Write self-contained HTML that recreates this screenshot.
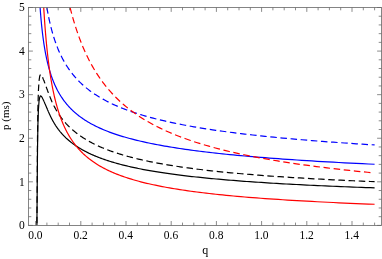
<!DOCTYPE html>
<html><head><meta charset="utf-8"><title>plot</title>
<style>
html,body{margin:0;padding:0;background:#fff;}
body{width:382px;height:259px;position:relative;overflow:hidden;font-family:"Liberation Serif",serif;color:#000;}
.xl,.yl,.xt,.yt{position:absolute;font-size:11.5px;line-height:11.5px;white-space:nowrap;}
.lab{position:absolute;left:0;top:0;width:382px;height:259px;will-change:transform;}
.xl,.xt{width:40px;text-align:center;}
.yl{text-align:right;}
.yt{font-size:11px;line-height:11px;}
.xt{font-size:12px;line-height:12px;}
.yt{transform-origin:0 0;transform:rotate(-90deg);}
</style></head><body>
<svg width="382" height="259" viewBox="0 0 382 259" style="position:absolute;left:0;top:0"><defs><clipPath id="c"><rect x="28.5" y="7.5" width="353.0" height="217.9"/></clipPath></defs><g clip-path="url(#c)" fill="none" stroke-linejoin="round"><path d="M36.90,225.50L37.20,190.00L37.50,150.00L37.90,125.00L38.40,110.00L39.00,101.50L39.70,97.40L40.30,96.10L40.80,95.90L41.40,96.40L42.30,97.77L42.39,97.94L42.48,98.12L42.57,98.31L42.66,98.50L42.75,98.69L42.85,98.89L42.94,99.09L43.04,99.29L43.14,99.50L43.24,99.71L43.34,99.93L43.44,100.15L43.55,100.38L43.65,100.61L43.76,100.84L43.87,101.08L43.97,101.33L44.09,101.58L44.20,101.83L44.31,102.09L44.43,102.35L44.54,102.62L44.66,102.89L44.78,103.17L44.90,103.45L45.02,103.74L45.15,104.03L45.28,104.33L45.40,104.63L45.53,104.94L45.66,105.25L45.80,105.57L45.93,105.89L46.07,106.22L46.21,106.55L46.35,106.88L46.49,107.22L46.63,107.56L46.78,107.91L46.93,108.26L47.07,108.61L47.23,108.97L47.38,109.34L47.54,109.70L47.69,110.07L47.85,110.44L48.02,110.82L48.18,111.20L48.35,111.58L48.51,111.97L48.68,112.35L48.86,112.74L49.03,113.13L49.21,113.53L49.39,113.92L49.57,114.32L49.76,114.72L49.94,115.12L50.13,115.53L50.32,115.93L50.52,116.34L50.72,116.74L50.92,117.15L51.12,117.56L51.32,117.97L51.53,118.38L51.74,118.79L51.95,119.20L52.17,119.61L52.39,120.02L52.61,120.43L52.84,120.84L53.06,121.25L53.29,121.66L53.53,122.07L53.76,122.48L54.00,122.89L54.25,123.30L54.49,123.70L54.74,124.11L55.00,124.52L55.25,124.92L55.51,125.33L55.78,125.73L56.04,126.14L56.31,126.54L56.59,126.94L56.86,127.34L57.14,127.74L57.43,128.14L57.72,128.54L58.01,128.94L58.30,129.34L58.60,129.73L58.91,130.13L59.22,130.52L59.53,130.91L59.84,131.31L60.17,131.70L60.49,132.09L60.82,132.47L61.15,132.86L61.49,133.25L61.83,133.64L62.18,134.02L62.53,134.41L62.88,134.79L63.24,135.17L63.61,135.55L63.98,135.93L64.35,136.31L64.73,136.69L65.12,137.07L65.51,137.45L65.90,137.83L66.30,138.20L66.71,138.58L67.12,138.95L67.54,139.32L67.96,139.69L68.39,140.07L68.82,140.44L69.26,140.81L69.70,141.17L70.15,141.54L70.61,141.91L71.07,142.28L71.54,142.64L72.02,143.01L72.50,143.37L72.99,143.73L73.48,144.09L73.98,144.45L74.49,144.82L75.00,145.17L75.52,145.53L76.05,145.89L76.58,146.25L77.12,146.60L77.67,146.96L78.23,147.31L78.79,147.66L79.36,148.02L79.94,148.37L80.53,148.72L81.12,149.07L81.72,149.41L82.33,149.76L82.95,150.11L83.57,150.45L84.21,150.80L84.85,151.14L85.50,151.48L86.16,151.82L86.83,152.16L87.50,152.50L88.19,152.84L88.88,153.17L89.59,153.51L90.30,153.84L91.02,154.18L91.75,154.51L92.50,154.84L93.25,155.17L94.01,155.50L94.78,155.83L95.56,156.15L96.35,156.48L97.16,156.80L97.97,157.13L98.79,157.45L99.63,157.77L100.47,158.09L101.33,158.41L102.20,158.72L103.08,159.04L103.97,159.35L104.87,159.67L105.79,159.98L106.72,160.29L107.66,160.60L108.61,160.91L109.57,161.22L110.55,161.52L111.54,161.83L112.54,162.13L113.56,162.43L114.59,162.73L115.63,163.03L116.69,163.33L117.76,163.63L118.85,163.92L119.95,164.22L121.06,164.51L122.19,164.80L123.33,165.09L124.49,165.38L125.67,165.67L126.86,165.95L128.06,166.24L129.28,166.52L130.52,166.81L131.77,167.09L133.04,167.37L134.33,167.64L135.64,167.92L136.96,168.20L138.30,168.47L139.65,168.74L141.03,169.02L142.42,169.29L143.83,169.56L145.26,169.82L146.71,170.09L148.18,170.35L149.66,170.62L151.17,170.88L152.70,171.14L154.24,171.40L155.81,171.66L157.40,171.91L159.01,172.17L160.64,172.42L162.29,172.68L163.96,172.93L165.66,173.18L167.38,173.43L169.12,173.67L170.88,173.92L172.67,174.16L174.48,174.41L176.31,174.65L178.17,174.89L180.06,175.13L181.96,175.37L183.90,175.60L185.86,175.84L187.84,176.07L189.85,176.30L191.89,176.54L193.96,176.77L196.05,176.99L198.17,177.22L200.31,177.45L202.49,177.67L204.69,177.89L206.93,178.12L209.19,178.34L211.49,178.55L213.81,178.77L216.16,178.99L218.55,179.20L220.96,179.42L223.41,179.63L225.89,179.84L228.41,180.05L230.95,180.26L233.54,180.47L236.15,180.67L238.80,180.88L241.48,181.08L244.20,181.28L246.96,181.48L249.75,181.68L252.58,181.88L255.45,182.08L258.35,182.27L261.29,182.47L264.27,182.66L267.30,182.85L270.36,183.04L273.46,183.23L276.60,183.42L279.78,183.61L283.01,183.79L286.28,183.98L289.59,184.16L292.94,184.34L296.34,184.52L299.79,184.70L303.28,184.88L306.81,185.06L310.40,185.23L314.03,185.41L317.70,185.58L321.43,185.75L325.21,185.92L329.03,186.09L332.91,186.26L336.83,186.43L340.81,186.60L344.85,186.76L348.93,186.92L353.07,187.09L357.26,187.25L361.51,187.41L365.82,187.57L370.18,187.72L374.60,187.88" stroke="#000000" stroke-width="1.2"/><path d="M36.90,225.50L37.20,184.14L37.50,137.53L37.90,108.41L38.40,90.93L39.00,81.03L39.70,76.25L40.30,74.74L40.80,74.50L41.40,75.09L42.30,76.68L42.39,76.88L42.48,77.10L42.57,77.31L42.66,77.53L42.75,77.75L42.85,77.98L42.94,78.22L43.04,78.45L43.14,78.70L43.24,78.95L43.34,79.20L43.44,79.46L43.55,79.72L43.65,79.99L43.76,80.26L43.87,80.54L43.97,80.83L44.09,81.12L44.20,81.41L44.31,81.71L44.43,82.02L44.54,82.33L44.66,82.65L44.78,82.97L44.90,83.30L45.02,83.64L45.15,83.98L45.28,84.33L45.40,84.68L45.53,85.04L45.66,85.40L45.80,85.77L45.93,86.14L46.07,86.52L46.21,86.91L46.35,87.30L46.49,87.69L46.63,88.09L46.78,88.49L46.93,88.90L47.07,89.32L47.23,89.73L47.38,90.16L47.54,90.58L47.69,91.01L47.85,91.45L48.02,91.89L48.18,92.33L48.35,92.77L48.51,93.22L48.68,93.67L48.86,94.13L49.03,94.58L49.21,95.04L49.39,95.50L49.57,95.97L49.76,96.43L49.94,96.90L50.13,97.37L50.32,97.84L50.52,98.31L50.72,98.79L50.92,99.26L51.12,99.74L51.32,100.21L51.53,100.69L51.74,101.17L51.95,101.65L52.17,102.12L52.39,102.60L52.61,103.08L52.84,103.56L53.06,104.04L53.29,104.51L53.53,104.99L53.76,105.47L54.00,105.95L54.25,106.42L54.49,106.90L54.74,107.37L55.00,107.85L55.25,108.32L55.51,108.79L55.78,109.26L56.04,109.73L56.31,110.20L56.59,110.67L56.86,111.14L57.14,111.60L57.43,112.07L57.72,112.53L58.01,113.00L58.30,113.46L58.60,113.92L58.91,114.38L59.22,114.84L59.53,115.30L59.84,115.75L60.17,116.21L60.49,116.66L60.82,117.12L61.15,117.57L61.49,118.02L61.83,118.47L62.18,118.92L62.53,119.37L62.88,119.81L63.24,120.26L63.61,120.70L63.98,121.15L64.35,121.59L64.73,122.03L65.12,122.47L65.51,122.91L65.90,123.35L66.30,123.79L66.71,124.22L67.12,124.66L67.54,125.09L67.96,125.53L68.39,125.96L68.82,126.39L69.26,126.82L69.70,127.25L70.15,127.68L70.61,128.11L71.07,128.54L71.54,128.96L72.02,129.39L72.50,129.81L72.99,130.23L73.48,130.65L73.98,131.07L74.49,131.49L75.00,131.91L75.52,132.33L76.05,132.75L76.58,133.16L77.12,133.58L77.67,133.99L78.23,134.40L78.79,134.81L79.36,135.22L79.94,135.63L80.53,136.04L81.12,136.45L81.72,136.85L82.33,137.26L82.95,137.66L83.57,138.06L84.21,138.46L84.85,138.86L85.50,139.26L86.16,139.66L86.83,140.05L87.50,140.45L88.19,140.84L88.88,141.23L89.59,141.62L90.30,142.01L91.02,142.40L91.75,142.79L92.50,143.18L93.25,143.56L94.01,143.94L94.78,144.33L95.56,144.71L96.35,145.08L97.16,145.46L97.97,145.84L98.79,146.21L99.63,146.59L100.47,146.96L101.33,147.33L102.20,147.70L103.08,148.07L103.97,148.43L104.87,148.80L105.79,149.16L106.72,149.53L107.66,149.89L108.61,150.25L109.57,150.60L110.55,150.96L111.54,151.31L112.54,151.67L113.56,152.02L114.59,152.37L115.63,152.72L116.69,153.07L117.76,153.41L118.85,153.76L119.95,154.10L121.06,154.44L122.19,154.78L123.33,155.12L124.49,155.45L125.67,155.79L126.86,156.12L128.06,156.46L129.28,156.79L130.52,157.12L131.77,157.44L133.04,157.77L134.33,158.09L135.64,158.42L136.96,158.74L138.30,159.06L139.65,159.37L141.03,159.69L142.42,160.01L143.83,160.32L145.26,160.63L146.71,160.94L148.18,161.25L149.66,161.56L151.17,161.86L152.70,162.17L154.24,162.47L155.81,162.77L157.40,163.07L159.01,163.37L160.64,163.66L162.29,163.96L163.96,164.25L165.66,164.54L167.38,164.83L169.12,165.12L170.88,165.40L172.67,165.69L174.48,165.97L176.31,166.25L178.17,166.53L180.06,166.81L181.96,167.09L183.90,167.37L185.86,167.64L187.84,167.91L189.85,168.18L191.89,168.45L193.96,168.72L196.05,168.99L198.17,169.25L200.31,169.51L202.49,169.77L204.69,170.03L206.93,170.29L209.19,170.55L211.49,170.80L213.81,171.06L216.16,171.31L218.55,171.56L220.96,171.81L223.41,172.06L225.89,172.30L228.41,172.55L230.95,172.79L233.54,173.03L236.15,173.27L238.80,173.51L241.48,173.75L244.20,173.98L246.96,174.22L249.75,174.45L252.58,174.68L255.45,174.91L258.35,175.14L261.29,175.36L264.27,175.59L267.30,175.81L270.36,176.03L273.46,176.26L276.60,176.47L279.78,176.69L283.01,176.91L286.28,177.12L289.59,177.34L292.94,177.55L296.34,177.76L299.79,177.97L303.28,178.18L306.81,178.38L310.40,178.59L314.03,178.79L317.70,178.99L321.43,179.19L325.21,179.39L329.03,179.59L332.91,179.78L336.83,179.98L340.81,180.17L344.85,180.36L348.93,180.55L353.07,180.74L357.26,180.93L361.51,181.12L365.82,181.30L370.18,181.49L374.60,181.67" stroke="#000000" stroke-width="1.2" stroke-dasharray="6.55,3.615" stroke-dashoffset="7.846"/><path d="M37.40,-56.67L37.43,-55.27L37.47,-53.88L37.50,-52.49L37.54,-51.10L37.57,-49.72L37.61,-48.34L37.65,-46.97L37.69,-45.60L37.72,-44.23L37.76,-42.87L37.81,-41.51L37.85,-40.15L37.89,-38.80L37.93,-37.46L37.98,-36.11L38.02,-34.78L38.07,-33.44L38.11,-32.11L38.16,-30.79L38.21,-29.46L38.26,-28.15L38.31,-26.84L38.36,-25.53L38.41,-24.22L38.46,-22.92L38.51,-21.63L38.57,-20.34L38.62,-19.05L38.68,-17.77L38.74,-16.49L38.80,-15.22L38.86,-13.95L38.92,-12.69L38.98,-11.43L39.04,-10.18L39.11,-8.93L39.18,-7.68L39.24,-6.44L39.31,-5.21L39.38,-3.98L39.45,-2.75L39.52,-1.53L39.60,-0.32L39.67,0.90L39.75,2.10L39.83,3.30L39.90,4.50L39.99,5.69L40.07,6.88L40.15,8.06L40.24,9.24L40.32,10.41L40.41,11.58L40.50,12.74L40.59,13.90L40.69,15.06L40.78,16.21L40.88,17.35L40.98,18.49L41.08,19.62L41.18,20.75L41.29,21.87L41.40,22.99L41.50,24.11L41.61,25.22L41.73,26.32L41.84,27.42L41.96,28.51L42.08,29.60L42.20,30.69L42.32,31.77L42.45,32.84L42.58,33.91L42.71,34.97L42.84,36.03L42.98,37.09L43.12,38.14L43.26,39.18L43.40,40.22L43.55,41.26L43.70,42.29L43.85,43.31L44.00,44.33L44.16,45.34L44.32,46.35L44.49,47.36L44.65,48.36L44.82,49.35L44.99,50.34L45.17,51.33L45.35,52.31L45.53,53.29L45.72,54.26L45.91,55.22L46.10,56.18L46.30,57.14L46.50,58.09L46.70,59.03L46.91,59.98L47.12,60.91L47.34,61.84L47.56,62.77L47.79,63.69L48.01,64.61L48.25,65.52L48.48,66.43L48.73,67.33L48.97,68.23L49.22,69.12L49.48,70.01L49.74,70.89L50.00,71.77L50.27,72.65L50.55,73.52L50.83,74.38L51.11,75.24L51.41,76.09L51.70,76.95L52.00,77.79L52.31,78.63L52.62,79.47L52.94,80.30L53.27,81.13L53.60,81.95L53.94,82.77L54.28,83.58L54.63,84.39L54.99,85.19L55.35,85.99L55.72,86.79L56.10,87.58L56.49,88.37L56.88,89.15L57.28,89.92L57.68,90.70L58.10,91.46L58.52,92.23L58.95,92.99L59.39,93.74L59.83,94.49L60.29,95.24L60.75,95.98L61.22,96.72L61.70,97.45L62.19,98.18L62.69,98.90L63.20,99.62L63.72,100.34L64.24,101.05L64.78,101.76L65.33,102.46L65.88,103.16L66.45,103.86L67.03,104.55L67.62,105.23L68.22,105.92L68.83,106.59L69.46,107.27L70.09,107.94L70.74,108.60L71.40,109.26L72.07,109.92L72.75,110.58L73.45,111.23L74.16,111.87L74.88,112.51L75.62,113.15L76.37,113.78L77.13,114.41L77.91,115.04L78.71,115.66L79.51,116.28L80.34,116.89L81.18,117.50L82.03,118.11L82.90,118.71L83.79,119.31L84.69,119.91L85.61,120.50L86.55,121.08L87.51,121.67L88.48,122.25L89.47,122.82L90.48,123.40L91.51,123.97L92.56,124.53L93.63,125.09L94.72,125.65L95.82,126.21L96.95,126.76L98.11,127.30L99.28,127.85L100.47,128.39L101.69,128.92L102.93,129.46L104.19,129.99L105.48,130.51L106.79,131.04L108.12,131.56L109.48,132.07L110.87,132.58L112.28,133.09L113.72,133.60L115.18,134.10L116.67,134.60L118.19,135.10L119.74,135.59L121.32,136.08L122.93,136.56L124.57,137.05L126.24,137.52L127.93,138.00L129.67,138.47L131.43,138.94L133.23,139.41L135.06,139.87L136.92,140.33L138.82,140.79L140.76,141.24L142.73,141.70L144.74,142.14L146.79,142.59L148.87,143.03L151.00,143.47L153.16,143.90L155.37,144.34L157.61,144.77L159.90,145.19L162.23,145.62L164.61,146.04L167.02,146.46L169.49,146.87L172.00,147.28L174.56,147.69L177.16,148.10L179.82,148.50L182.52,148.91L185.28,149.30L188.09,149.70L190.95,150.09L193.86,150.48L196.83,150.87L199.85,151.25L202.93,151.63L206.07,152.01L209.27,152.39L212.52,152.76L215.84,153.13L219.22,153.50L222.66,153.87L226.17,154.23L229.75,154.59L233.39,154.95L237.10,155.30L240.87,155.66L244.72,156.01L248.65,156.35L252.64,156.70L256.71,157.04L260.86,157.38L265.08,157.72L269.39,158.06L273.77,158.39L278.24,158.72L282.79,159.05L287.42,159.37L292.15,159.70L296.96,160.02L301.86,160.33L306.85,160.65L311.94,160.96L317.12,161.28L322.40,161.59L327.78,161.89L333.26,162.20L338.84,162.50L344.53,162.80L350.32,163.10L356.22,163.39L362.23,163.69L368.36,163.98L374.60,164.27" stroke="#0000ff" stroke-width="1.2"/><path d="M40.32,-57.49L40.41,-55.95L40.50,-54.42L40.59,-52.90L40.69,-51.38L40.78,-49.87L40.88,-48.36L40.98,-46.87L41.08,-45.38L41.18,-43.89L41.29,-42.41L41.40,-40.94L41.50,-39.47L41.61,-38.01L41.73,-36.56L41.84,-35.12L41.96,-33.68L42.08,-32.24L42.20,-30.82L42.32,-29.40L42.45,-27.98L42.58,-26.58L42.71,-25.18L42.84,-23.78L42.98,-22.39L43.12,-21.01L43.26,-19.64L43.40,-18.27L43.55,-16.91L43.70,-15.56L43.85,-14.21L44.00,-12.87L44.16,-11.53L44.32,-10.20L44.49,-8.88L44.65,-7.56L44.82,-6.25L44.99,-4.95L45.17,-3.66L45.35,-2.37L45.53,-1.08L45.72,0.19L45.91,1.46L46.10,2.73L46.30,3.99L46.50,5.24L46.70,6.48L46.91,7.72L47.12,8.95L47.34,10.18L47.56,11.40L47.79,12.61L48.01,13.82L48.25,15.02L48.48,16.21L48.73,17.40L48.97,18.58L49.22,19.75L49.48,20.92L49.74,22.08L50.00,23.24L50.27,24.39L50.55,25.53L50.83,26.67L51.11,27.80L51.41,28.93L51.70,30.05L52.00,31.16L52.31,32.27L52.62,33.37L52.94,34.46L53.27,35.55L53.60,36.63L53.94,37.71L54.28,38.78L54.63,39.84L54.99,40.90L55.35,41.95L55.72,43.00L56.10,44.04L56.49,45.07L56.88,46.10L57.28,47.12L57.68,48.14L58.10,49.15L58.52,50.15L58.95,51.15L59.39,52.15L59.83,53.13L60.29,54.12L60.75,55.09L61.22,56.06L61.70,57.03L62.19,57.99L62.69,58.94L63.20,59.89L63.72,60.83L64.24,61.76L64.78,62.69L65.33,63.62L65.88,64.54L66.45,65.45L67.03,66.36L67.62,67.26L68.22,68.16L68.83,69.05L69.46,69.94L70.09,70.82L70.74,71.70L71.40,72.57L72.07,73.43L72.75,74.29L73.45,75.15L74.16,76.00L74.88,76.84L75.62,77.68L76.37,78.52L77.13,79.34L77.91,80.17L78.71,80.99L79.51,81.80L80.34,82.61L81.18,83.41L82.03,84.21L82.90,85.00L83.79,85.79L84.69,86.57L85.61,87.35L86.55,88.12L87.51,88.89L88.48,89.65L89.47,90.41L90.48,91.16L91.51,91.91L92.56,92.66L93.63,93.39L94.72,94.13L95.82,94.86L96.95,95.58L98.11,96.30L99.28,97.02L100.47,97.73L101.69,98.44L102.93,99.14L104.19,99.83L105.48,100.53L106.79,101.21L108.12,101.90L109.48,102.58L110.87,103.25L112.28,103.92L113.72,104.58L115.18,105.25L116.67,105.90L118.19,106.55L119.74,107.20L121.32,107.85L122.93,108.49L124.57,109.12L126.24,109.75L127.93,110.38L129.67,111.00L131.43,111.62L133.23,112.23L135.06,112.84L136.92,113.45L138.82,114.05L140.76,114.65L142.73,115.24L144.74,115.83L146.79,116.41L148.87,116.99L151.00,117.57L153.16,118.15L155.37,118.71L157.61,119.28L159.90,119.84L162.23,120.40L164.61,120.95L167.02,121.50L169.49,122.05L172.00,122.59L174.56,123.13L177.16,123.67L179.82,124.20L182.52,124.72L185.28,125.25L188.09,125.77L190.95,126.28L193.86,126.80L196.83,127.31L199.85,127.81L202.93,128.31L206.07,128.81L209.27,129.31L212.52,129.80L215.84,130.29L219.22,130.77L222.66,131.25L226.17,131.73L229.75,132.20L233.39,132.68L237.10,133.14L240.87,133.61L244.72,134.07L248.65,134.52L252.64,134.98L256.71,135.43L260.86,135.88L265.08,136.32L269.39,136.76L273.77,137.20L278.24,137.64L282.79,138.07L287.42,138.50L292.15,138.92L296.96,139.34L301.86,139.76L306.85,140.18L311.94,140.59L317.12,141.00L322.40,141.41L327.78,141.81L333.26,142.21L338.84,142.61L344.53,143.00L350.32,143.40L356.22,143.79L362.23,144.17L368.36,144.55L374.60,144.93" stroke="#0000ff" stroke-width="1.2" stroke-dasharray="6.55,3.615" stroke-dashoffset="6.074"/><path d="M40.98,-55.54L41.08,-52.35L41.18,-49.19L41.29,-46.07L41.40,-42.98L41.50,-39.93L41.61,-36.91L41.73,-33.92L41.84,-30.97L41.96,-28.04L42.08,-25.15L42.20,-22.29L42.32,-19.47L42.45,-16.67L42.58,-13.90L42.71,-11.17L42.84,-8.46L42.98,-5.79L43.12,-3.14L43.26,-0.52L43.40,2.06L43.55,4.62L43.70,7.15L43.85,9.66L44.00,12.13L44.16,14.58L44.32,17.00L44.49,19.39L44.65,21.76L44.82,24.10L44.99,26.42L45.17,28.71L45.35,30.97L45.53,33.21L45.72,35.42L45.91,37.61L46.10,39.77L46.30,41.91L46.50,44.03L46.70,46.12L46.91,48.19L47.12,50.24L47.34,52.26L47.56,54.26L47.79,56.23L48.01,58.19L48.25,60.12L48.48,62.03L48.73,63.92L48.97,65.79L49.22,67.64L49.48,69.46L49.74,71.27L50.00,73.05L50.27,74.82L50.55,76.56L50.83,78.29L51.11,79.99L51.41,81.68L51.70,83.34L52.00,84.99L52.31,86.62L52.62,88.23L52.94,89.82L53.27,91.40L53.60,92.95L53.94,94.49L54.28,96.01L54.63,97.51L54.99,99.00L55.35,100.47L55.72,101.92L56.10,103.35L56.49,104.77L56.88,106.18L57.28,107.56L57.68,108.93L58.10,110.29L58.52,111.63L58.95,112.95L59.39,114.26L59.83,115.55L60.29,116.83L60.75,118.09L61.22,119.34L61.70,120.58L62.19,121.80L62.69,123.01L63.20,124.20L63.72,125.38L64.24,126.54L64.78,127.69L65.33,128.83L65.88,129.96L66.45,131.07L67.03,132.17L67.62,133.25L68.22,134.33L68.83,135.39L69.46,136.44L70.09,137.47L70.74,138.50L71.40,139.51L72.07,140.51L72.75,141.50L73.45,142.48L74.16,143.44L74.88,144.40L75.62,145.34L76.37,146.27L77.13,147.20L77.91,148.11L78.71,149.01L79.51,149.90L80.34,150.78L81.18,151.65L82.03,152.51L82.90,153.36L83.79,154.19L84.69,155.02L85.61,155.84L86.55,156.65L87.51,157.45L88.48,158.24L89.47,159.03L90.48,159.80L91.51,160.56L92.56,161.32L93.63,162.06L94.72,162.80L95.82,163.53L96.95,164.25L98.11,164.96L99.28,165.66L100.47,166.36L101.69,167.04L102.93,167.72L104.19,168.39L105.48,169.05L106.79,169.71L108.12,170.36L109.48,170.99L110.87,171.63L112.28,172.25L113.72,172.87L115.18,173.48L116.67,174.08L118.19,174.67L119.74,175.26L121.32,175.84L122.93,176.42L124.57,176.99L126.24,177.55L127.93,178.10L129.67,178.65L131.43,179.19L133.23,179.73L135.06,180.26L136.92,180.78L138.82,181.29L140.76,181.80L142.73,182.31L144.74,182.81L146.79,183.30L148.87,183.79L151.00,184.27L153.16,184.74L155.37,185.21L157.61,185.67L159.90,186.13L162.23,186.58L164.61,187.03L167.02,187.47L169.49,187.91L172.00,188.34L174.56,188.77L177.16,189.19L179.82,189.61L182.52,190.02L185.28,190.43L188.09,190.83L190.95,191.23L193.86,191.62L196.83,192.01L199.85,192.39L202.93,192.77L206.07,193.14L209.27,193.51L212.52,193.88L215.84,194.24L219.22,194.60L222.66,194.95L226.17,195.30L229.75,195.64L233.39,195.98L237.10,196.32L240.87,196.65L244.72,196.98L248.65,197.30L252.64,197.62L256.71,197.94L260.86,198.25L265.08,198.56L269.39,198.87L273.77,199.17L278.24,199.47L282.79,199.76L287.42,200.05L292.15,200.34L296.96,200.63L301.86,200.91L306.85,201.18L311.94,201.46L317.12,201.73L322.40,202.00L327.78,202.26L333.26,202.52L338.84,202.78L344.53,203.04L350.32,203.29L356.22,203.54L362.23,203.79L368.36,204.03L374.60,204.27" stroke="#ff0000" stroke-width="1.2"/><path d="M58.49,-56.70L58.91,-53.42L59.35,-50.18L59.80,-46.97L60.25,-43.81L60.71,-40.67L61.18,-37.58L61.66,-34.52L62.15,-31.50L62.65,-28.51L63.16,-25.56L63.67,-22.64L64.20,-19.75L64.73,-16.90L65.28,-14.08L65.84,-11.29L66.40,-8.54L66.98,-5.82L67.57,-3.13L68.17,-0.47L68.78,2.16L69.40,4.76L70.03,7.33L70.68,9.87L71.34,12.37L72.01,14.85L72.69,17.30L73.39,19.73L74.09,22.12L74.82,24.49L75.55,26.82L76.30,29.14L77.06,31.42L77.84,33.68L78.63,35.91L79.44,38.11L80.26,40.29L81.10,42.44L81.95,44.57L82.82,46.68L83.70,48.76L84.60,50.81L85.52,52.84L86.46,54.85L87.41,56.83L88.38,58.79L89.37,60.73L90.38,62.64L91.41,64.53L92.45,66.40L93.52,68.25L94.61,70.08L95.71,71.88L96.84,73.66L97.99,75.43L99.16,77.17L100.35,78.89L101.56,80.59L102.80,82.27L104.06,83.93L105.34,85.57L106.65,87.19L107.98,88.80L109.34,90.38L110.72,91.95L112.13,93.49L113.56,95.02L115.02,96.53L116.51,98.03L118.03,99.50L119.57,100.96L121.15,102.40L122.75,103.82L124.38,105.23L126.05,106.62L127.74,108.00L129.47,109.35L131.23,110.70L133.02,112.02L134.85,113.33L136.71,114.63L138.60,115.91L140.54,117.17L142.50,118.42L144.51,119.65L146.55,120.87L148.63,122.08L150.75,123.27L152.90,124.45L155.10,125.61L157.34,126.76L159.63,127.89L161.95,129.02L164.32,130.13L166.73,131.22L169.19,132.31L171.69,133.38L174.24,134.43L176.84,135.48L179.49,136.51L182.19,137.53L184.94,138.54L187.74,139.54L190.59,140.52L193.49,141.49L196.45,142.45L199.47,143.40L202.54,144.34L205.67,145.27L208.86,146.19L212.10,147.09L215.41,147.99L218.78,148.87L222.22,149.75L225.72,150.61L229.28,151.46L232.91,152.31L236.61,153.14L240.38,153.96L244.21,154.78L248.12,155.58L252.11,156.37L256.17,157.16L260.30,157.93L264.51,158.70L268.80,159.46L273.18,160.21L277.63,160.95L282.17,161.68L286.79,162.40L291.50,163.11L296.29,163.82L301.18,164.51L306.16,165.20L311.23,165.88L316.40,166.56L321.66,167.22L327.02,167.88L332.48,168.53L338.05,169.17L343.72,169.80L349.49,170.43L355.38,171.04L361.37,171.66L367.48,172.26L373.70,172.86" stroke="#ff0000" stroke-width="1.2" stroke-dasharray="6.55,3.615" stroke-dashoffset="6.072"/></g><g stroke="#666" stroke-width="0.8" fill="none"><rect x="28.5" y="7.5" width="353.0" height="217.9"/><path d="M35.60,225.4v-4.4M35.60,7.5v4.4M46.90,225.4v-2.8M46.90,7.5v2.8M58.20,225.4v-2.8M58.20,7.5v2.8M69.50,225.4v-2.8M69.50,7.5v2.8M80.80,225.4v-4.4M80.80,7.5v4.4M92.10,225.4v-2.8M92.10,7.5v2.8M103.40,225.4v-2.8M103.40,7.5v2.8M114.70,225.4v-2.8M114.70,7.5v2.8M126.00,225.4v-4.4M126.00,7.5v4.4M137.30,225.4v-2.8M137.30,7.5v2.8M148.60,225.4v-2.8M148.60,7.5v2.8M159.90,225.4v-2.8M159.90,7.5v2.8M171.20,225.4v-4.4M171.20,7.5v4.4M182.50,225.4v-2.8M182.50,7.5v2.8M193.80,225.4v-2.8M193.80,7.5v2.8M205.10,225.4v-2.8M205.10,7.5v2.8M216.40,225.4v-4.4M216.40,7.5v4.4M227.70,225.4v-2.8M227.70,7.5v2.8M239.00,225.4v-2.8M239.00,7.5v2.8M250.30,225.4v-2.8M250.30,7.5v2.8M261.60,225.4v-4.4M261.60,7.5v4.4M272.90,225.4v-2.8M272.90,7.5v2.8M284.20,225.4v-2.8M284.20,7.5v2.8M295.50,225.4v-2.8M295.50,7.5v2.8M306.80,225.4v-4.4M306.80,7.5v4.4M318.10,225.4v-2.8M318.10,7.5v2.8M329.40,225.4v-2.8M329.40,7.5v2.8M340.70,225.4v-2.8M340.70,7.5v2.8M352.00,225.4v-4.4M352.00,7.5v4.4M363.30,225.4v-2.8M363.30,7.5v2.8M374.60,225.4v-2.8M374.60,7.5v2.8M28.5,225.40h4.4M381.5,225.40h-4.4M28.5,216.68h2.8M381.5,216.68h-2.8M28.5,207.97h2.8M381.5,207.97h-2.8M28.5,199.25h2.8M381.5,199.25h-2.8M28.5,190.54h2.8M381.5,190.54h-2.8M28.5,181.82h4.4M381.5,181.82h-4.4M28.5,173.10h2.8M381.5,173.10h-2.8M28.5,164.39h2.8M381.5,164.39h-2.8M28.5,155.67h2.8M381.5,155.67h-2.8M28.5,146.96h2.8M381.5,146.96h-2.8M28.5,138.24h4.4M381.5,138.24h-4.4M28.5,129.52h2.8M381.5,129.52h-2.8M28.5,120.81h2.8M381.5,120.81h-2.8M28.5,112.09h2.8M381.5,112.09h-2.8M28.5,103.38h2.8M381.5,103.38h-2.8M28.5,94.66h4.4M381.5,94.66h-4.4M28.5,85.94h2.8M381.5,85.94h-2.8M28.5,77.23h2.8M381.5,77.23h-2.8M28.5,68.51h2.8M381.5,68.51h-2.8M28.5,59.80h2.8M381.5,59.80h-2.8M28.5,51.08h4.4M381.5,51.08h-4.4M28.5,42.36h2.8M381.5,42.36h-2.8M28.5,33.65h2.8M381.5,33.65h-2.8M28.5,24.93h2.8M381.5,24.93h-2.8M28.5,16.22h2.8M381.5,16.22h-2.8M28.5,7.50h4.4M381.5,7.50h-4.4" stroke-width="0.75"/></g></svg>
<div class="lab"><div class="xl" style="left:15.40px;top:229.5px">0.0</div><div class="xl" style="left:60.60px;top:229.5px">0.2</div><div class="xl" style="left:105.80px;top:229.5px">0.4</div><div class="xl" style="left:151.00px;top:229.5px">0.6</div><div class="xl" style="left:196.20px;top:229.5px">0.8</div><div class="xl" style="left:241.40px;top:229.5px">1.0</div><div class="xl" style="left:286.60px;top:229.5px">1.2</div><div class="xl" style="left:331.80px;top:229.5px">1.4</div><div class="yl" style="left:0;width:24.8px;top:220.10px">0</div><div class="yl" style="left:0;width:24.8px;top:176.52px">1</div><div class="yl" style="left:0;width:24.8px;top:132.94px">2</div><div class="yl" style="left:0;width:24.8px;top:89.36px">3</div><div class="yl" style="left:0;width:24.8px;top:45.78px">4</div><div class="yl" style="left:0;width:24.8px;top:2.20px">5</div><div class="xt" style="left:185.3px;top:243.8px">q</div><div class="yt" style="left:0.0px;top:130.0px">p (ms)</div></div>
</body></html>
